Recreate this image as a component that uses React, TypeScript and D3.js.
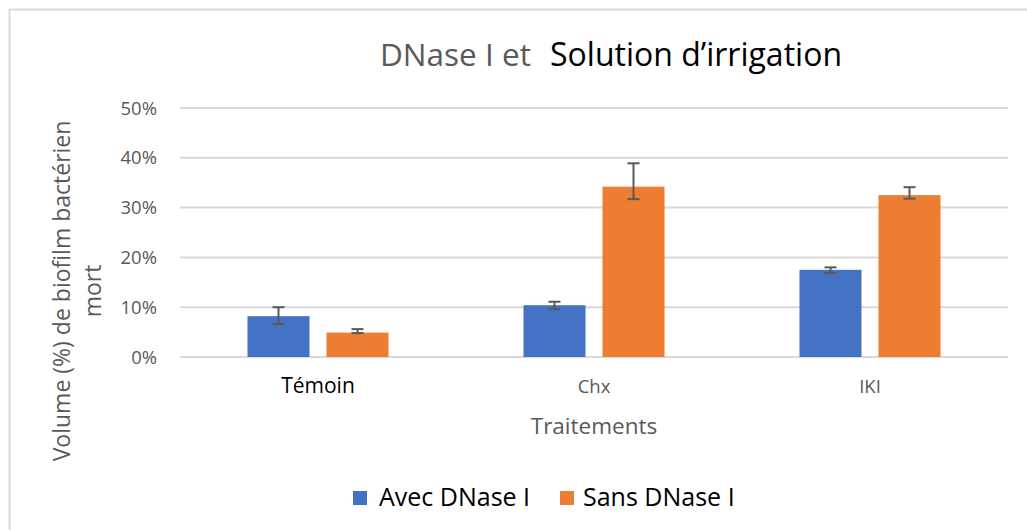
import * as d3 from "d3";

// data
const categories = ["Témoin", "Chx", "IKI"];
const series = ["Avec DNase I", "Sans DNase I"];
const avecValues = [0.082, 0.104, 0.175];
const sansValues = [0.049, 0.342, 0.325];
const avecErrUp = [0.018, 0.007, 0.005];
const avecErrDown = [0.016, 0.008, 0.006];
const sansErrUp = [0.007, 0.047, 0.016];
const sansErrDown = [0.001, 0.025, 0.007];
const yTicks = [0, 0.1, 0.2, 0.3, 0.4, 0.5];

const colors = ["#4472C4", "#ED7D31"];
const font = "'Open Sans', sans-serif";

const App = () => {
    const width = 1027, height = 530;
    const left = 180, right = 1008, top = 108, bottom = 357;

    const x0 = d3.scaleBand().domain(categories).range([left, right]).padding(0);
    const x1 = d3.scaleBand().domain(series).range([0, x0.bandwidth()]).paddingInner(0.215).paddingOuter(0.854);
    const y = d3.scaleLinear().domain([0, 0.5]).range([bottom, top]);
    const fmt = d3.format(".0%");

    const rows = categories.map((c, i) => ({
        key: c,
        vals: [
            { s: series[0], v: avecValues[i], up: avecErrUp[i], down: avecErrDown[i] },
            { s: series[1], v: sansValues[i], up: sansErrUp[i], down: sansErrDown[i] },
        ],
    }));

    return (
        <div style={{ position: "absolute", left: 0, top: 0 }}>
            <svg width={width} height={height} style={{ display: "block", background: "#fff" }}>
                <rect x={9.5} y={9.5} width={width + 20} height={height + 20} fill="none" stroke="#d9d9d9" strokeWidth={2} />

                <text x={380} y={66} fontFamily={font} fontSize={31.5} fill="#595959">DNase I et</text>
                <text x={550} y={66} fontFamily={font} fontSize={32} fill="#000">Solution d’irrigation</text>

                {/* grid + y ticks */}
                {yTicks.map(t => (
                    <g key={t}>
                        <line x1={left} x2={right} y1={y(t)} y2={y(t)} stroke="#d9d9d9" strokeWidth={2} />
                        <text x={157} y={y(t)} dy="0.36em" textAnchor="end" fontFamily={font} fontSize={18.5} fill="#595959">{fmt(t)}</text>
                    </g>
                ))}

                {/* bars */}
                {rows.map(r => (
                    <g key={r.key} transform={`translate(${x0(r.key)},0)`}>
                        {r.vals.map((d, j) => {
                            const bx = x1(d.s)!;
                            const cx = bx + x1.bandwidth() / 2;
                            return (
                                <g key={d.s}>
                                    <rect x={bx} y={y(d.v)} width={x1.bandwidth()} height={y(0) - y(d.v)} fill={colors[j]} />
                                    <g stroke="#595959" strokeWidth={2}>
                                        <line x1={cx} x2={cx} y1={y(d.v + d.up)} y2={y(d.v - d.down)} />
                                        <line x1={cx - 6} x2={cx + 6} y1={y(d.v + d.up)} y2={y(d.v + d.up)} />
                                        <line x1={cx - 6} x2={cx + 6} y1={y(d.v - d.down)} y2={y(d.v - d.down)} />
                                    </g>
                                </g>
                            );
                        })}
                    </g>
                ))}

                {/* category labels */}
                {categories.map((c, i) => (
                    <text key={c} x={x0(c)! + x0.bandwidth() / 2} y={393} textAnchor="middle" fontFamily={font}
                        fontSize={i === 0 ? 21 : 18.5} fill={i === 0 ? "#000" : "#595959"}>{c}</text>
                ))}

                <text x={594} y={434} textAnchor="middle" fontFamily={font} fontSize={22.5} fill="#595959">Traitements</text>

                <g transform="translate(0,291) rotate(-90)" fontFamily={font} fontSize={23} fill="#595959" textAnchor="middle">
                    <text x={0} y={70}>Volume (%) de biofilm bactérien</text>
                    <text x={0} y={101}>mort</text>
                </g>

                {/* legend */}
                <rect x={353} y={491} width={14} height={14} fill={colors[0]} />
                <text x={379} y={506} fontFamily={font} fontSize={25} fill="#000">{series[0]}</text>
                <rect x={560} y={491} width={14} height={14} fill={colors[1]} />
                <text x={583} y={506} fontFamily={font} fontSize={25} fill="#000">{series[1]}</text>
            </svg>
        </div>
    );
};

export default App;
